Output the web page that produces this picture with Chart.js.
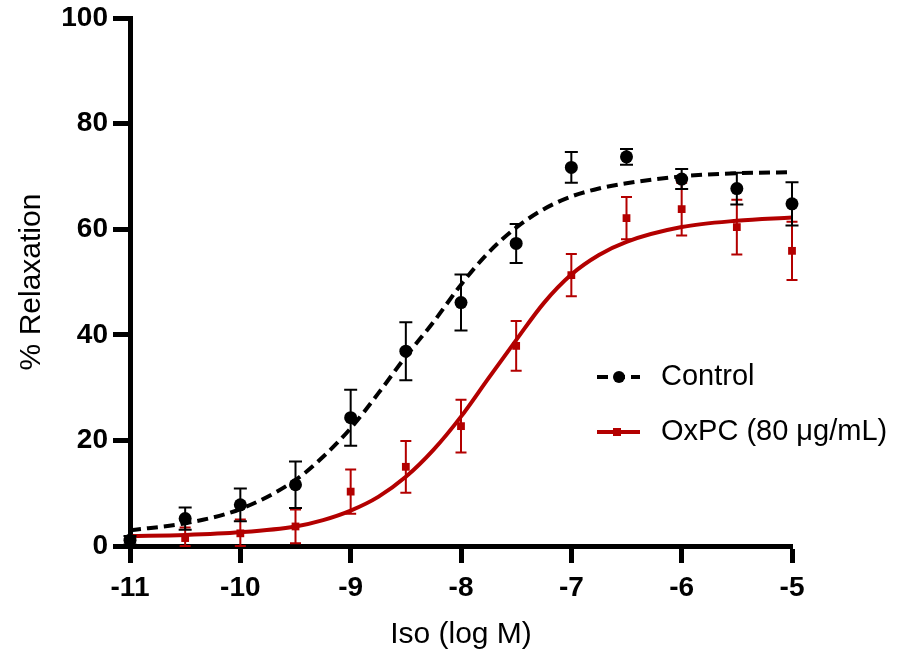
<!DOCTYPE html>
<html>
<head>
<meta charset="utf-8">
<script src="https://cdn.jsdelivr.net/npm/chart.js@4.4.1/dist/chart.umd.min.js"></script>
<style>
  html, body { margin: 0; padding: 0; background: #fff; }
  #wrap { width: 914px; height: 657px; }
</style>
</head>
<body>
<div id="wrap"><canvas id="chart" width="914" height="657"></canvas></div>
<script>
// Iso concentration (log M) of the measured points
const logDose = [-11, -10.5, -10, -9.5, -9, -8.5, -8, -7.5, -7, -6.5, -6, -5.5, -5];

// measured % relaxation, mean and SEM
const controlMean = [1.1, 5.2, 7.8, 11.6, 24.3, 36.9, 46.1, 57.3, 71.7, 73.7, 69.5, 67.7, 64.8];
const controlSem  = [0.8, 2.1, 3.1, 4.4, 5.3, 5.5, 5.3, 3.7, 2.9, 1.5, 1.9, 3.0, 4.1];
const oxpcMean    = [1.2, 1.5, 2.4, 3.7, 10.3, 15.0, 22.7, 37.9, 51.3, 62.1, 63.8, 60.4, 55.9];
const oxpcSem     = [0.5, 2.0, 2.6, 3.2, 4.2, 4.9, 5.0, 4.7, 4.0, 4.0, 5.0, 5.2, 5.5];

// fitted curves
const fitDose    = [-11, -10.5, -10, -9.5, -9.25, -9, -8.75, -8.5, -8.25, -8, -7.75, -7.5, -7.25, -7, -6.75, -6.5, -6, -5.5, -5];
const controlFit = [3.0, 4.3, 7.0, 12.5, 16.9, 22.3, 28.9, 35.9, 42.4, 49.5, 55.6, 60.3, 63.8, 66.2, 67.7, 68.7, 70.0, 70.6, 70.8];
const oxpcFit    = [1.9, 2.1, 2.6, 3.7, 4.9, 6.7, 9.3, 13.1, 18.2, 24.5, 31.8, 39.0, 46.0, 51.4, 55.1, 57.6, 60.4, 61.6, 62.2];

const xTicks = { min: -11, max: -5, step: 1 };
const yTicks = { min: 0, max: 100, step: 20 };

const BLACK = '#000000';
const RED = '#b30000';
const FONT = "'Liberation Sans', Arial, sans-serif";

const toXY = (xs, ys) => xs.map((x, i) => ({ x: x, y: ys[i] }));

// draws SEM bars under each point dataset
const errorBars = {
    id: 'errorBars',
    beforeDatasetDraw(chart, args) {
        const ds = chart.data.datasets[args.index];
        if (!ds.sem) return;
        const { ctx, scales: { x, y } } = chart;
        ctx.save();
        ctx.strokeStyle = ds.borderColor;
        ctx.lineWidth = 2;
        ds.data.forEach((p, i) => {
            const px = x.getPixelForValue(p.x);
            const top = y.getPixelForValue(p.y + ds.sem[i]);
            const bot = y.getPixelForValue(Math.max(0, p.y - ds.sem[i]));
            const cap = ds.capWidth / 2;
            ctx.beginPath();
            ctx.moveTo(px, top); ctx.lineTo(px, bot);
            ctx.moveTo(px - cap, top); ctx.lineTo(px + cap, top);
            ctx.moveTo(px - cap, bot); ctx.lineTo(px + cap, bot);
            ctx.stroke();
        });
        ctx.restore();
    }
};

// legend drawn inside the plot, right side
const sideLegend = {
    id: 'sideLegend',
    afterDraw(chart) {
        const ctx = chart.ctx;
        const ds = chart.data.datasets;
        const items = [
            { line: ds[1], point: ds[0], y: 377 },
            { line: ds[3], point: ds[2], y: 432 }
        ];
        ctx.save();
        items.forEach(it => {
            ctx.strokeStyle = it.line.borderColor;
            ctx.lineWidth = it.line.borderWidth;
            ctx.setLineDash(it.line.borderDash || []);
            ctx.beginPath();
            ctx.moveTo(597, it.y);
            ctx.lineTo(640, it.y);
            ctx.stroke();
            ctx.setLineDash([]);
            ctx.fillStyle = it.point.backgroundColor;
            if (it.point.pointStyle === 'rect') {
                ctx.fillRect(613, it.y - 4, 8, 8);
            } else {
                ctx.beginPath();
                ctx.arc(619, it.y, 6, 0, Math.PI * 2);
                ctx.fill();
            }
            ctx.fillStyle = BLACK;
            ctx.font = '29px ' + FONT;
            ctx.textBaseline = 'middle';
            ctx.fillText(it.point.label, 661, it.y);
        });
        ctx.restore();
    }
};

const axisStyle = {
    grid: { display: true, drawOnChartArea: false, drawTicks: true, tickLength: 17, tickWidth: 5, tickColor: BLACK },
    border: { display: true, color: BLACK, width: 5 }
};

new Chart(document.getElementById('chart'), {
    type: 'scatter',
    data: {
        datasets: [
            {
                label: 'Control',
                data: toXY(logDose, controlMean),
                sem: controlSem,
                capWidth: 13,
                showLine: false,
                pointStyle: 'circle',
                pointRadius: 6.5,
                backgroundColor: BLACK,
                borderColor: BLACK,
                borderWidth: 0,
                clip: false
            },
            {
                label: 'Control fit',
                data: toXY(fitDose, controlFit),
                showLine: true,
                cubicInterpolationMode: 'monotone',
                borderColor: BLACK,
                borderWidth: 4,
                borderDash: [11, 6],
                pointRadius: 0
            },
            {
                label: 'OxPC (80 \u03bcg/mL)',
                data: toXY(logDose, oxpcMean),
                sem: oxpcSem,
                capWidth: 11,
                showLine: false,
                pointStyle: 'rect',
                pointRadius: 5.5,
                backgroundColor: RED,
                borderColor: RED,
                borderWidth: 0,
                clip: false
            },
            {
                label: 'OxPC fit',
                data: toXY(fitDose, oxpcFit),
                showLine: true,
                cubicInterpolationMode: 'monotone',
                borderColor: RED,
                borderWidth: 4,
                pointRadius: 0
            }
        ]
    },
    options: {
        responsive: false,
        devicePixelRatio: 1,
        animation: false,
        layout: { padding: { top: 18, right: 122, left: 0, bottom: 0 } },
        plugins: {
            legend: { display: false },
            tooltip: { enabled: false }
        },
        scales: {
            x: {
                type: 'linear',
                min: xTicks.min,
                max: xTicks.max,
                ticks: { stepSize: xTicks.step, color: BLACK, padding: 8, font: { family: FONT, size: 28, weight: 'bold' } },
                ...axisStyle,
                title: { display: true, text: 'Iso (log M)', color: BLACK, font: { family: FONT, size: 30 }, padding: { top: 0, bottom: 4 } },
                afterFit(s) { s.height = 111; }
            },
            y: {
                type: 'linear',
                min: yTicks.min,
                max: yTicks.max,
                ticks: { stepSize: yTicks.step, color: BLACK, padding: 5, font: { family: FONT, size: 28, weight: 'bold' } },
                ...axisStyle,
                title: { display: true, text: '% Relaxation', color: BLACK, font: { family: FONT, size: 30 }, padding: { top: 14, bottom: 0 } },
                afterFit(s) { s.width = 130; s.paddingTop = 0; }
            }
        }
    },
    plugins: [errorBars, sideLegend]
});
</script>
</body>
</html>
